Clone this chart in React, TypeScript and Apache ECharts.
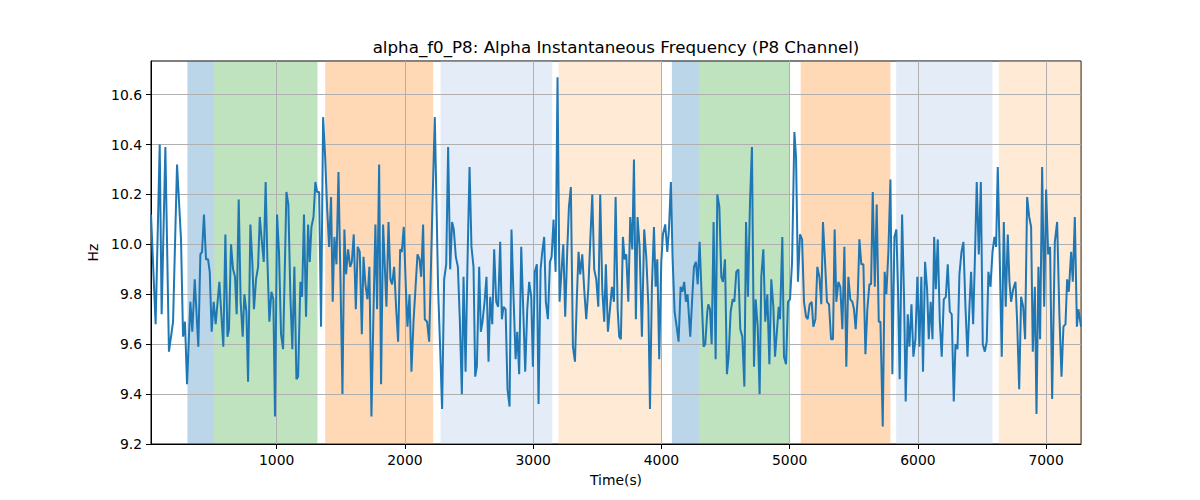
import React, { useEffect, useRef } from "react";
import * as echarts from "echarts";

const TITLE = "alpha_f0_P8: Alpha Instantaneous Frequency (P8 Channel)";
const X_NAME = "Time(s)";
const Y_NAME = "Hz";

const timeSec = [
  20, 56, 88, 103, 132, 160, 192, 223, 254, 270, 285, 301, 327, 342, 361, 389, 405, 418, 433, 449, 465, 478, 493, 509, 524, 553, 584, 600, 616,
  628, 644, 660, 675, 688, 704, 719, 735, 748, 764, 777, 795, 810, 823, 839, 855, 868, 883, 899, 914, 927, 943, 959, 974, 987, 1003, 1018, 1034, 1050, 1076, 1091, 1107, 1122, 1138, 1154, 1167, 1185, 1198, 1213, 1229,
  1245, 1258, 1271, 1287, 1302, 1315, 1331, 1346, 1362, 1378, 1393, 1409, 1424, 1437, 1450, 1466, 1482, 1497, 1513, 1528, 1541, 1557, 1573, 1586, 1601, 1617, 1632, 1648, 1664, 1677, 1692, 1708, 1723, 1739, 1755, 1770, 1783, 1799, 1814, 1830,
  1856, 1872, 1887, 1900, 1916, 1932, 1947, 1963, 1976, 1991, 2007, 2020, 2036, 2051, 2067, 2082, 2098, 2114, 2127, 2142, 2155, 2173, 2189, 2205, 2218, 2233, 2246, 2259, 2275, 2290, 2306, 2322, 2337, 2353, 2368, 2381, 2397, 2413, 2428, 2444,
  2457, 2473, 2488, 2504, 2519, 2535, 2548, 2561, 2579, 2592, 2605, 2621, 2636, 2652, 2665, 2681, 2696, 2712, 2727, 2743, 2756, 2769, 2785, 2800, 2816, 2831, 2847, 2863, 2876, 2891, 2907, 2922, 2938, 2954, 2969, 2985, 2998, 3013, 3029, 3042, 3058,
  3071, 3086, 3099, 3115, 3131, 3144, 3159, 3175, 3190, 3206, 3222, 3235, 3250, 3266, 3279, 3294, 3310, 3326, 3341, 3354, 3367, 3383, 3398, 3414, 3430, 3445, 3461, 3476, 3492, 3508, 3523, 3539, 3554, 3567, 3583, 3599, 3614, 3630, 3643, 3659,
  3671, 3684, 3700, 3713, 3726, 3742, 3757, 3773, 3786, 3801, 3814, 3830, 3848, 3866, 3882, 3898, 3911, 3926, 3942, 3955, 3968, 3983, 3999, 4012, 4030, 4046, 4059, 4074, 4087, 4103, 4119, 4134, 4150, 4163, 4178, 4191, 4204, 4225, 4241, 4254, 4269,
  4283, 4298, 4314, 4329, 4342, 4358, 4366, 4379, 4392, 4407, 4423, 4436, 4452, 4467, 4480, 4496, 4511, 4524, 4540, 4556, 4569, 4584, 4600, 4615, 4631, 4647, 4660, 4675, 4691, 4706, 4722, 4735, 4751, 4766, 4779, 4795, 4810, 4826, 4842, 4857, 4873,
  4886, 4915, 4925, 4943, 4956, 4972, 4987, 5003, 5019, 5037, 5050, 5065, 5081, 5097, 5112, 5128, 5141, 5156, 5172, 5185, 5201, 5216, 5232, 5247, 5260, 5276, 5291, 5307, 5323, 5338, 5351, 5364, 5380, 5395, 5411, 5427, 5442, 5458, 5473, 5489,
  5502, 5515, 5531, 5544, 5559, 5575, 5591, 5606, 5622, 5635, 5648, 5664, 5679, 5695, 5708, 5726, 5741, 5754, 5770, 5786, 5801, 5817, 5832, 5845, 5858, 5877, 5892, 5905, 5921, 5934, 5950, 5965, 5981, 5996, 6012, 6027, 6040, 6056, 6072, 6085, 6100,
  6114, 6127, 6140, 6155, 6171, 6186, 6202, 6218, 6233, 6249, 6264, 6280, 6293, 6309, 6324, 6340, 6355, 6371, 6387, 6402, 6415, 6431, 6444, 6459, 6475, 6491, 6506, 6522, 6537, 6550, 6566, 6582, 6597, 6610, 6623, 6639, 6654, 6670, 6685, 6701,
  6714, 6727, 6743, 6761, 6774, 6790, 6805, 6821, 6836, 6852, 6868, 6883, 6896, 6912, 6925, 6940, 6953, 6969, 6985, 7000, 7016, 7031, 7047, 7068, 7086, 7104, 7120, 7135, 7151, 7164, 7177, 7195, 7208, 7224, 7240, 7252, 7272,
];

const freqHz = [
  10.12, 9.68, 10.40, 9.72, 10.39, 9.57, 9.69, 10.32, 10.02, 9.63, 9.69, 9.44, 9.77, 9.65, 9.86, 9.59, 9.96, 9.97, 10.12, 9.94, 9.94, 9.89, 9.65, 9.77, 9.68, 9.85, 9.59, 10.04, 9.63,
  9.66, 10.00, 9.90, 9.87, 9.72, 10.18, 9.77, 9.63, 9.80, 9.73, 9.45, 10.08, 9.93, 9.74, 9.86, 9.91, 10.11, 10.02, 9.93, 10.25, 9.95, 9.69, 9.81, 9.78, 9.31, 10.12, 9.97, 9.64, 9.58, 10.21, 10.16, 9.79, 9.58, 9.91, 9.46, 9.47, 9.85, 9.79, 10.12, 9.71,
  10.08, 9.93, 10.07, 10.11, 10.25, 10.21, 10.21, 9.67, 10.51, 10.35, 10.15, 9.99, 10.19, 9.77, 10.03, 9.92, 10.29, 9.87, 9.40, 10.06, 9.88, 9.98, 9.91, 9.93, 10.04, 9.74, 9.99, 9.97, 9.64, 9.95, 9.84, 9.78, 9.91, 9.31, 9.73, 10.08, 9.74, 10.32, 9.44, 10.08,
  9.75, 10.09, 9.86, 9.84, 9.91, 9.74, 9.61, 9.98, 9.97, 10.07, 9.83, 9.67, 9.80, 9.49, 9.69, 9.82, 9.96, 9.94, 9.87, 10.08, 9.70, 9.69, 9.61, 9.95, 10.22, 10.51, 10.17, 9.82, 9.58, 9.34, 9.86, 9.92, 10.39, 9.90, 10.09, 10.06, 9.95, 9.91, 9.70, 9.40,
  9.87, 9.49, 9.93, 10.31, 9.99, 9.91, 9.47, 9.51, 9.91, 9.65, 9.69, 9.77, 9.87, 9.53, 9.79, 9.68, 9.98, 9.77, 9.75, 10.01, 9.70, 9.75, 9.74, 9.42, 9.35, 10.06, 9.79, 9.54, 9.65, 9.48, 9.99, 9.75, 9.49, 9.74, 9.85, 9.79, 9.51, 9.89, 9.92, 9.36, 9.90,
  9.97, 10.03, 9.77, 9.70, 9.93, 9.95, 10.10, 9.89, 10.67, 9.77, 9.90, 10.00, 9.71, 9.98, 10.15, 10.23, 9.59, 9.53, 9.79, 9.97, 9.88, 9.96, 9.82, 9.70, 9.82, 10.01, 10.20, 9.90, 9.86, 9.75, 10.20, 9.82, 9.69, 9.92, 9.65, 9.74, 9.83, 9.77, 10.19, 9.74,
  9.63, 9.62, 10.03, 9.94, 9.96, 9.77, 10.11, 9.98, 10.34, 9.70, 10.11, 9.99, 9.63, 10.06, 9.95, 9.76, 9.34, 9.83, 10.07, 9.83, 9.94, 9.54, 9.93, 10.04, 10.08, 9.97, 10.06, 10.25, 9.95, 9.73, 9.67, 9.61, 9.83, 9.81, 9.85, 9.77, 9.80, 9.63, 9.79, 9.91, 9.93,
  9.84, 10.01, 9.79, 9.59, 9.60, 9.73, 9.76, 9.74, 9.60, 10.09, 9.54, 10.20, 10.15, 9.87, 9.85, 9.94, 9.48, 9.55, 9.73, 9.78, 9.77, 9.89, 9.90, 9.66, 9.63, 9.43, 10.09, 9.79, 10.17, 10.39, 9.51, 9.78, 9.67, 9.40, 9.87, 9.98, 9.69, 9.80, 9.52, 9.86, 9.75,
  9.55, 9.75, 9.70, 10.03, 9.55, 9.52, 9.77, 9.78, 9.93, 10.45, 10.35, 9.85, 10.04, 10.02, 9.77, 9.71, 9.70, 9.76, 9.77, 9.67, 9.70, 9.91, 9.87, 9.76, 10.09, 9.93, 9.77, 9.76, 9.62, 9.62, 10.06, 9.77, 9.85, 9.83, 9.66, 9.99, 9.51, 9.87, 9.78, 9.77,
  9.74, 9.66, 9.79, 10.02, 9.92, 9.92, 9.56, 9.74, 9.84, 9.84, 10.21, 9.83, 10.16, 9.69, 9.69, 9.27, 9.89, 9.80, 9.97, 10.26, 9.48, 10.03, 10.06, 9.82, 9.46, 10.12, 9.79, 9.37, 9.72, 9.59, 9.76, 9.55, 9.62, 9.87, 9.59, 9.87, 9.49, 9.93, 9.82, 9.62, 9.77,
  9.62, 10.03, 9.82, 10.02, 9.69, 9.55, 9.78, 9.79, 9.92, 9.73, 9.72, 9.37, 9.60, 9.58, 9.88, 9.97, 10.01, 9.75, 9.55, 9.75, 9.89, 9.68, 9.93, 10.25, 9.96, 10.25, 9.60, 9.57, 9.61, 9.89, 9.83, 9.97, 10.03, 9.99, 10.31, 9.93, 9.55, 10.09, 9.75, 10.04,
  9.85, 9.77, 9.82, 9.85, 9.69, 9.42, 9.79, 9.75, 9.62, 10.19, 10.11, 10.07, 9.57, 9.83, 9.32, 9.91, 9.62, 10.31, 9.75, 10.22, 9.96, 9.99, 9.38, 10.01, 10.09, 9.71, 9.47, 9.67, 9.68, 9.86, 9.81, 9.97, 9.85, 10.11, 9.67, 9.74, 9.67,
];

const bandStart = [304, 512, 1378, 2278, 3198, 4082, 4293, 5086, 5830, 6631];
const bandEnd = [512, 1318, 2220, 3149, 3999, 4293, 5003, 5786, 6582, 7272];
const bandKind = ["blue", "green", "orange", "lightblue", "lightorange", "blue", "green", "orange", "lightblue", "lightorange"];

const xTicks = [1000, 2000, 3000, 4000, 5000, 6000, 7000];
const yTicks = [9.2, 9.4, 9.6, 9.8, 10.0, 10.2, 10.4, 10.6];
const xMin = 20;
const xMax = 7272;
const yMin = 9.2;
const yMax = 10.735;

const bandColors: Record<string, string> = {
  blue: "rgba(31,119,180,0.3)",
  green: "rgba(44,160,44,0.3)",
  orange: "rgba(255,127,14,0.3)",
  lightblue: "rgba(174,199,232,0.33)",
  lightorange: "rgba(255,187,120,0.3)",
};

const FONT = "DejaVu Sans";

export default function App() {
  const ref = useRef<HTMLDivElement>(null);
  useEffect(() => {
    if (!ref.current) return;
    const chart = echarts.init(ref.current, undefined, { renderer: "svg" });
    const lineData = timeSec.map((t, i) => [t, freqHz[i]]);
    const areas = bandStart.map((s, i) => [
      { xAxis: s, itemStyle: { color: bandColors[bandKind[i]] } },
      { xAxis: bandEnd[i] },
    ]);
    chart.setOption({
      animation: false,
      backgroundColor: "#ffffff",
      title: {
        text: TITLE,
        left: 611,
        top: 33,
        textAlign: "center",
        textStyle: { fontFamily: FONT, fontSize: 16.7, fontWeight: "normal", color: "#000" },
      },
      grid: {
        left: 151,
        right: 119,
        top: 61,
        bottom: 56,
        show: true,
        borderColor: "#000",
        borderWidth: 1,
        backgroundColor: "transparent",
      },
      xAxis: {
        type: "value",
        z: 2,
        min: xMin,
        max: xMax,
        name: X_NAME,
        nameLocation: "middle",
        nameGap: 29,
        nameTextStyle: { fontFamily: FONT, fontSize: 13.9, color: "#000" },
        axisLine: { show: true, lineStyle: { color: "#000", width: 1 } },
        axisTick: { show: true, length: 5, customValues: xTicks, lineStyle: { color: "#000" } },
        axisLabel: {
          customValues: xTicks,
          margin: 9,
          fontFamily: FONT,
          fontSize: 13.9,
          color: "#000",
          formatter: (v: number) => String(v),
        },
        splitLine: { show: true, lineStyle: { color: "#b0b0b0", width: 1 } },
      },
      yAxis: {
        type: "value",
        z: 2,
        min: yMin,
        max: yMax,
        name: Y_NAME,
        nameLocation: "middle",
        nameGap: 40,
        nameRotate: 90,
        nameTextStyle: { fontFamily: FONT, fontSize: 13.9, color: "#000" },
        axisLine: { show: true, lineStyle: { color: "#000", width: 1 } },
        axisTick: { show: true, length: 5, customValues: yTicks, lineStyle: { color: "#000" } },
        axisLabel: {
          customValues: yTicks,
          margin: 9,
          fontFamily: FONT,
          fontSize: 13.9,
          color: "#000",
          formatter: (v: number) => v.toFixed(1),
        },
        splitLine: { show: true, lineStyle: { color: "#b0b0b0", width: 1 } },
      },
      series: [
        {
          type: "line",
          data: [],
          z: 1,
          silent: true,
          markArea: { silent: true, data: areas },
        },
        {
          type: "line",
          data: lineData,
          z: 3,
          showSymbol: false,
          symbol: "none",
          lineStyle: { color: "#1f77b4", width: 2 },
        },
      ],
    });
    return () => chart.dispose();
  }, []);
  return (
    <div
      ref={ref}
      style={{ position: "absolute", left: 0, top: 0, width: 1200, height: 500 }}
    />
  );
}
